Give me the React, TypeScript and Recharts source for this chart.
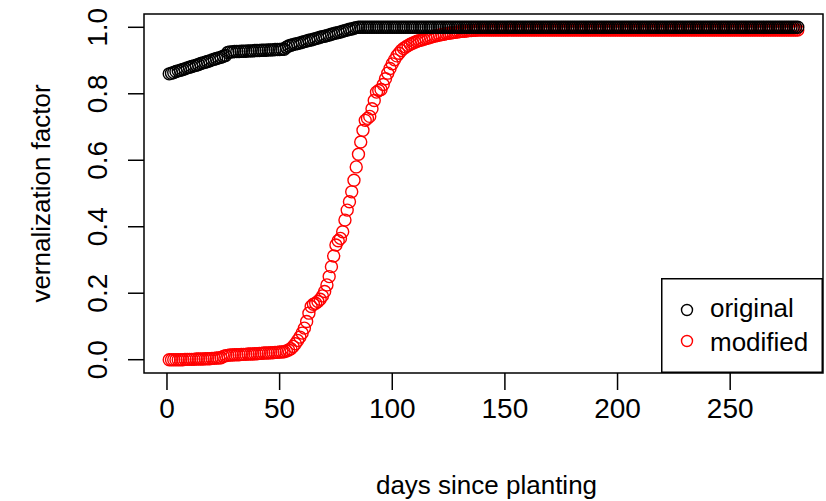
import React from 'react';
import { ScatterChart, Scatter, XAxis, YAxis, ReferenceArea, Legend } from 'recharts';

// vernalization factor per day since planting (day 1..280)
const original = [
  0.860, 0.862, 0.864, 0.867, 0.869, 0.871, 0.873, 0.875, 0.878, 0.880, 0.882, 0.884, 0.886, 0.888, 0.891, 0.893, 0.895, 0.897, 0.899, 0.902,
  0.904, 0.906, 0.908, 0.910, 0.913, 0.915,
  0.924, 0.926, 0.926, 0.927, 0.927, 0.927, 0.928, 0.928, 0.928, 0.929, 0.929, 0.929, 0.930, 0.930, 0.930, 0.931, 0.931, 0.931, 0.932, 0.932,
  0.932, 0.933, 0.933, 0.933, 0.934, 0.934,
  0.940, 0.944, 0.946, 0.948, 0.950, 0.951, 0.953, 0.955, 0.957, 0.959, 0.961, 0.962, 0.964, 0.966, 0.968, 0.970, 0.972, 0.973, 0.975, 0.977,
  0.979, 0.981, 0.983, 0.984, 0.986, 0.988, 0.990, 0.992, 0.994, 0.995, 0.997, 0.999, 1.000,
  1, 1, 1, 1, 1, 1, 1, 1, 1, 1, 1, 1, 1, 1, 1, 1, 1, 1, 1, 1,
  1, 1, 1, 1, 1, 1, 1, 1, 1, 1, 1, 1, 1, 1, 1, 1, 1, 1, 1, 1,
  1, 1, 1, 1, 1, 1, 1, 1, 1, 1, 1, 1, 1, 1, 1, 1, 1, 1, 1, 1,
  1, 1, 1, 1, 1, 1, 1, 1, 1, 1, 1, 1, 1, 1, 1, 1, 1, 1, 1, 1,
  1, 1, 1, 1, 1, 1, 1, 1, 1, 1, 1, 1, 1, 1, 1, 1, 1, 1, 1, 1,
  1, 1, 1, 1, 1, 1, 1, 1, 1, 1, 1, 1, 1, 1, 1, 1, 1, 1, 1, 1,
  1, 1, 1, 1, 1, 1, 1, 1, 1, 1, 1, 1, 1, 1, 1, 1, 1, 1, 1, 1,
  1, 1, 1, 1, 1, 1, 1, 1, 1, 1, 1, 1, 1, 1, 1, 1, 1, 1, 1, 1,
  1, 1, 1, 1, 1, 1, 1, 1, 1, 1, 1, 1, 1, 1, 1, 1, 1, 1, 1, 1,
  1, 1, 1, 1, 1, 1, 1, 1, 1, 1, 1, 1, 1, 1, 1,
];

const modified = [
  0, 0, 0, 0, 0, 0, 0, 0.001, 0.001, 0.001, 0.001, 0.001, 0.002, 0.002, 0.002, 0.002, 0.003, 0.003, 0.003, 0.004,
  0.004, 0.005, 0.005, 0.006,
  0.010, 0.012, 0.013, 0.014, 0.014, 0.015, 0.015, 0.015, 0.016, 0.016, 0.016, 0.017, 0.017, 0.017, 0.018, 0.018,
  0.019, 0.019, 0.020, 0.020, 0.020, 0.021, 0.021, 0.022, 0.022, 0.023, 0.023, 0.024,
  0.026, 0.029, 0.033, 0.040, 0.048, 0.058, 0.068, 0.080, 0.095, 0.115,
  0.140, 0.160, 0.167, 0.170, 0.175, 0.182, 0.192, 0.205, 0.225, 0.250, 0.280, 0.312, 0.345, 0.358, 0.365, 0.385,
  0.420, 0.450, 0.475, 0.505, 0.540,
  0.580, 0.618, 0.655, 0.690, 0.720, 0.726, 0.732, 0.755, 0.780, 0.805, 0.810, 0.813, 0.828, 0.845, 0.862, 0.876,
  0.890, 0.902, 0.914, 0.922, 0.930, 0.936, 0.941, 0.945, 0.949, 0.952,
  0.955, 0.958, 0.960, 0.962, 0.964, 0.966, 0.968, 0.970, 0.972, 0.974, 0.975, 0.977, 0.978, 0.979, 0.981, 0.982,
  0.983, 0.984, 0.985, 0.986, 0.987, 0.988, 0.988, 0.989, 0.990, 0.990, 0.991, 0.991, 0.992, 0.992, 0.992,
  0.992, 0.992, 0.992, 0.992, 0.992, 0.992, 0.992, 0.992, 0.992, 0.992, 0.992, 0.992, 0.992, 0.992, 0.992, 0.992, 0.992, 0.992, 0.992, 0.992,
  0.992, 0.992, 0.992, 0.992, 0.992, 0.992, 0.992, 0.992, 0.992, 0.992, 0.992, 0.992, 0.992, 0.992, 0.992, 0.992, 0.992, 0.992, 0.992, 0.992,
  0.992, 0.992, 0.992, 0.992, 0.992, 0.992, 0.992, 0.992, 0.992, 0.992, 0.992, 0.992, 0.992, 0.992, 0.992, 0.992, 0.992, 0.992, 0.992, 0.992,
  0.992, 0.992, 0.992, 0.992, 0.992, 0.992, 0.992, 0.992, 0.992, 0.992, 0.992, 0.992, 0.992, 0.992, 0.992, 0.992, 0.992, 0.992, 0.992, 0.992,
  0.992, 0.992, 0.992, 0.992, 0.992, 0.992, 0.992, 0.992, 0.992, 0.992, 0.992, 0.992, 0.992, 0.992, 0.992, 0.992, 0.992, 0.992, 0.992, 0.992,
  0.992, 0.992, 0.992, 0.992, 0.992, 0.992, 0.992, 0.992, 0.992, 0.992, 0.992, 0.992, 0.992, 0.992, 0.992, 0.992, 0.992, 0.992, 0.992, 0.992,
  0.992, 0.992, 0.992, 0.992, 0.992, 0.992, 0.992, 0.992, 0.992, 0.992, 0.992, 0.992, 0.992, 0.992, 0.992, 0.992, 0.992, 0.992, 0.992, 0.992,
];

const xTicks = [0, 50, 100, 150, 200, 250];
const yTicks = [0, 0.2, 0.4, 0.6, 0.8, 1];
const seriesNames = ['original', 'modified'];
const seriesColors = ['#000000', '#ff0000'];

const X_DOMAIN: [number, number] = [-10.2, 291.2];
const Y_DOMAIN: [number, number] = [-0.04, 1.04];

const FONT = "'Liberation Sans', Arial, Helvetica, sans-serif";
const TICK_FONT = "'Liberation Sans Narrow', 'Liberation Sans', Arial, sans-serif";

const toPoints = (vals: number[]) => vals.map((v, i) => ({ day: i + 1, v }));

const ringShape = (color: string) => (props: any) => (
  <circle cx={props.cx} cy={props.cy} r={6} fill="none" stroke={color} strokeWidth={1.4} />
);

const XTick = (props: any) => (
  <text x={props.x} y={props.y + 26} textAnchor="middle" fontFamily={TICK_FONT} fontSize={28} fill="#000">
    {props.payload.value}
  </text>
);

const YTick = (props: any) => {
  const x = props.x - 19;
  return (
    <text x={x} y={props.y} transform={`rotate(-90 ${x} ${props.y})`} textAnchor="middle"
      fontFamily={TICK_FONT} fontSize={28} fill="#000">
      {props.payload.value.toFixed(1)}
    </text>
  );
};

const LegendBox = () => (
  <svg width={162} height={95} style={{ display: 'block' }}>
    <rect x={0.75} y={0.75} width={160.5} height={93.5} fill="#fff" stroke="#000" strokeWidth={1.5} />
    {seriesNames.map((name, i) => (
      <g key={name}>
        <circle cx={26} cy={32 + i * 31} r={5.5} fill="none" stroke={seriesColors[i]} strokeWidth={1.4} />
        <text x={49} y={39 + i * 34} fontFamily={FONT} fontSize={26} fill="#000">{name}</text>
      </g>
    ))}
  </svg>
);

export default function App() {
  return (
    <div style={{ position: 'absolute', left: 0, top: 0, background: '#fff' }}>
      <ScatterChart width={826} height={501} margin={{ top: 14, right: 3, left: 0, bottom: 0 }}>
        <XAxis
          type="number"
          dataKey="day"
          domain={X_DOMAIN}
          ticks={xTicks}
          height={128}
          tickSize={17}
          axisLine={false}
          tickLine={{ stroke: '#000', strokeWidth: 1.5 }}
          tick={XTick}
          label={{
            content: (p: any) => (
              <text x={p.viewBox.x + p.viewBox.width / 2 + 3} y={p.viewBox.y + 121} textAnchor="middle"
                fontFamily={FONT} fontSize={26} fill="#000">days since planting</text>
            ),
          }}
        />
        <YAxis
          type="number"
          dataKey="v"
          domain={Y_DOMAIN}
          ticks={yTicks}
          width={144}
          tickSize={16}
          axisLine={false}
          tickLine={{ stroke: '#000', strokeWidth: 1.5 }}
          tick={YTick}
          label={{
            content: (p: any) => {
              const x = 50;
              const y = p.viewBox.y + p.viewBox.height / 2;
              return (
                <text x={x} y={y} transform={`rotate(-90 ${x} ${y})`} textAnchor="middle"
                  fontFamily={FONT} fontSize={26} fill="#000">vernalization factor</text>
              );
            },
          }}
        />
        <ReferenceArea x1={X_DOMAIN[0]} x2={X_DOMAIN[1]} y1={Y_DOMAIN[0]} y2={Y_DOMAIN[1]}
          fill="none" stroke="#000" strokeWidth={1.5} fillOpacity={0} ifOverflow="visible" />
        <Scatter name={seriesNames[1]} data={toPoints(modified)} shape={ringShape(seriesColors[1])} isAnimationActive={false} />
        <Scatter name={seriesNames[0]} data={toPoints(original)} shape={ringShape(seriesColors[0])} isAnimationActive={false} />
        <Legend
          layout="vertical"
          align="center"
          verticalAlign="middle"
          wrapperStyle={{ left: 661, top: 278, width: 162, height: 95 }}
          content={LegendBox}
        />
      </ScatterChart>
    </div>
  );
}
